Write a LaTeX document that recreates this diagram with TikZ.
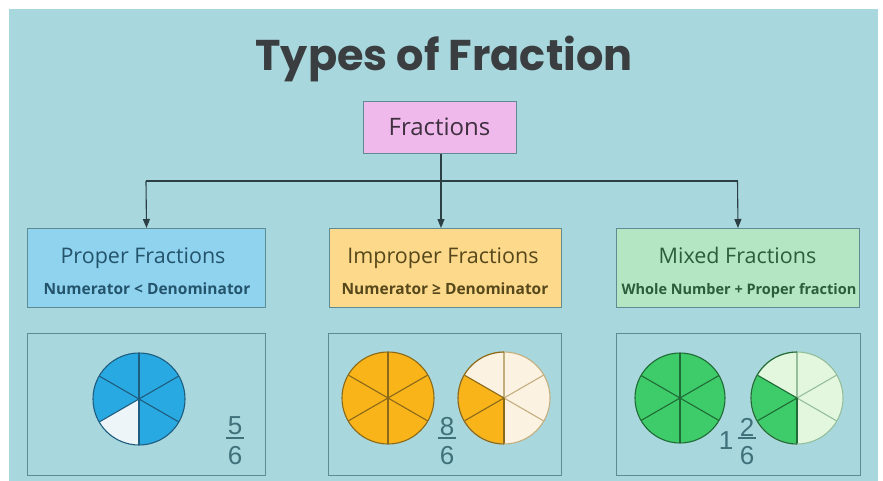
\documentclass[tikz,border=0pt]{standalone}
\usepackage{fontspec}
\setmainfont{Open Sans}
\newfontfamily\titlefont{Poppins}
\newfontfamily\digitfont{Liberation Sans}
\usetikzlibrary{arrows.meta}
\definecolor{bg}{HTML}{A8D8DD}
\definecolor{boxborder}{HTML}{5F8C92}
\definecolor{linec}{HTML}{2B3F45}
\definecolor{pinkfill}{HTML}{EFB9EC}
\definecolor{bluefill}{HTML}{90D3EF}
\definecolor{yellowfill}{HTML}{FDD98B}
\definecolor{greenfill}{HTML}{B4E6C3}
\definecolor{cblue}{HTML}{29A9E1}
\definecolor{cbluel}{HTML}{1F5D80}
\definecolor{cbluew}{HTML}{EEF5F8}
\definecolor{corange}{HTML}{F8B419}
\definecolor{corangel}{HTML}{8A6A1A}
\definecolor{corangew}{HTML}{FCF2E2}
\definecolor{cgreen}{HTML}{3ECC6B}
\definecolor{cgreenl}{HTML}{1F6A35}
\definecolor{cgreenw}{HTML}{E3F7DF}
\definecolor{titlec}{HTML}{3A3E40}
\definecolor{fracc}{HTML}{3F2F3F}
\definecolor{properc}{HTML}{24546C}
\definecolor{improperc}{HTML}{56481A}
\definecolor{mixedc}{HTML}{2A5E3A}
\definecolor{digitc}{HTML}{40707A}
\tikzset{
  panel/.style={draw=boxborder, line width=1pt, anchor=north west, inner sep=0pt},
  typebox/.style={panel, minimum width=#1, minimum height=79pt},
  picbox/.style={panel, minimum width=#1, minimum height=142pt},
  boxtitle/.style={font=\fontsize{21.5}{25}\selectfont, inner sep=0pt, anchor=base},
  boxsub/.style={font=\fontsize{15.5}{18}\selectfont\bfseries, inner sep=0pt, anchor=base},
  digit/.style={font=\digitfont\fontsize{26}{29}\selectfont, text=digitc, inner sep=0pt},
  fracbar/.style={draw=digitc, line width=1.3pt},
  conn/.style={draw=linec, line width=1.1pt},
  arr/.style={conn, -{Triangle[length=9pt,width=7pt]}},
}
\newcommand{\fullpie}[4]{%
  \begin{scope}[shift={#1}, yscale=-1]
    \fill[#3] (0,0) circle[radius=#2];
    \foreach \a in {90,30,-30,-90,-150,150} \draw[#4, line width=1.1pt] (0,0) -- (\a:#2);
    \draw[#4, line width=1.1pt] (0,0) circle[radius=#2];
  \end{scope}}
\newcommand{\partpie}[6]{%
  \begin{scope}[shift={#1}, yscale=-1]
    \fill[#4] (0,0) circle[radius=#2];
    \fill[#3] (0,0) -- (150:#2) arc[start angle=150, end angle=270, radius=#2] -- cycle;
    \foreach \a in {90,30,-30} \draw[#6, line width=1.1pt] (0,0) -- (\a:#2);
    \foreach \a in {150,210,270} \draw[#5, line width=1.1pt] (0,0) -- (\a:#2);
    \draw[#6, line width=1.1pt] (0,0) circle[radius=#2];
    \draw[#5, line width=1.1pt] (90:#2) arc[start angle=90, end angle=270, radius=#2];
  \end{scope}}
\begin{document}
\begin{tikzpicture}[x=1pt, y=-1pt]
\useasboundingbox (0,0) rectangle (883,481);
\fill[white] (0,0) rectangle (883,481);
\fill[bg] (9,9) rectangle (878,481);

\node[font=\titlefont\bfseries\fontsize{43}{50}\selectfont, text=titlec, inner sep=0pt, anchor=base] (title) at (444,71) {Types of Fraction};

\node[panel, fill=pinkfill, minimum width=153pt, minimum height=52pt] (frac) at (363,101) {};
\node[font=\fontsize{24}{28}\selectfont, text=fracc, inner sep=0pt, anchor=base] (fract) at (439.5,136) {Fractions};

\node[typebox=238pt, fill=bluefill] (proper) at (27,228) {};
\node[typebox=232pt, fill=yellowfill] (improper) at (329,228) {};
\node[typebox=243pt, fill=greenfill] (mixed) at (616,228) {};

\node[boxtitle, text=properc] (propert) at (143,263) {Proper Fractions};
\node[boxsub, text=properc] (propers) at (147,294.5) {Numerator < Denominator};
\node[boxtitle, text=improperc] (impropert) at (443,263) {Improper Fractions};
\node[boxsub, text=improperc] (impropers) at (445,294.5) {Numerator ≥ Denominator};
\node[boxtitle, text=mixedc] (mixedt) at (737.5,263) {Mixed Fractions};
\node[boxsub, font=\fontsize{14.5}{17}\selectfont\bfseries, text=mixedc] (mixeds) at (739,294.5) {Whole Number + Proper fraction};

\coordinate (hub) at (441,181);
\coordinate (hubL) at (146,181);
\coordinate (hubR) at (737.5,181);
\draw[conn] (frac.south -| hub) -- (hub);
\draw[conn] (hubL) -- (hubR);
\draw[arr] (hubL) -- (proper.north);
\draw[arr] (hub) -- (hub |- improper.north);
\draw[arr] (hubR) -- (mixed.north);

\node[picbox=238pt] (p1) at (27,333) {};
\node[picbox=233pt] (p2) at (328,333) {};
\node[picbox=244pt] (p3) at (616,333) {};

% proper pie 5/6
\begin{scope}[shift={(139,399)}, yscale=-1]
  \fill[cblue] (0,0) circle[radius=46];
  \fill[cbluew] (0,0) -- (210:46) arc[start angle=210, end angle=270, radius=46] -- cycle;
  \foreach \a in {90,30,-30,-90,-150,150} \draw[cbluel, line width=1.1pt] (0,0) -- (\a:46);
  \draw[cbluel, line width=1.1pt] (0,0) circle[radius=46];
\end{scope}
\node[digit] (n1) at (235,426) {5};
\node[digit] (d1) at (235,456) {6};
\draw[fracbar] (226,438) -- (244,438);

% improper 8/6
\fullpie{(388,398)}{46}{corange}{corangel}
\partpie{(504,398)}{46}{corange}{corangew}{corangel}{corangel!50!corangew}
\node[digit] (n2) at (447,427) {8};
\node[digit] (d2) at (447,456) {6};
\draw[fracbar] (438,438) -- (456,438);

% mixed 1 2/6
\fullpie{(680,398)}{45}{cgreen}{cgreenl}
\partpie{(797,398)}{46}{cgreen}{cgreenw}{cgreenl}{cgreenl!40!cgreenw}
\node[digit] (w3) at (726,441) {1};
\node[digit] (n3) at (747,427) {2};
\node[digit] (d3) at (747,456) {6};
\draw[fracbar] (738,438) -- (756,438);
\end{tikzpicture}
\end{document}
